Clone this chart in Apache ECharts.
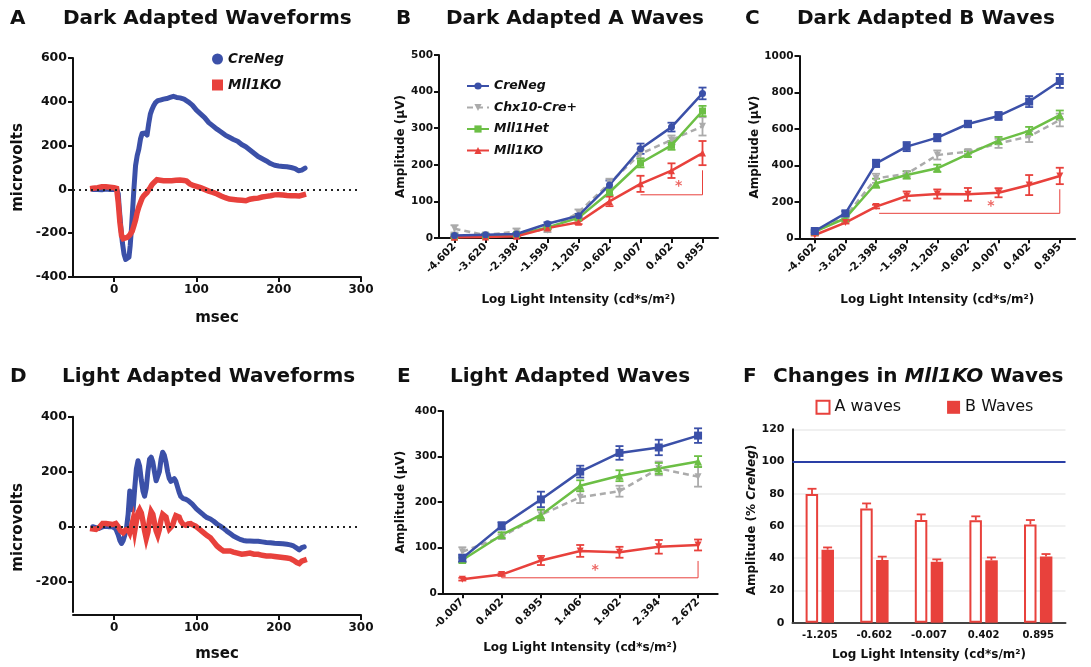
<!DOCTYPE html>
<html><head><meta charset="utf-8">
<script src="https://cdn.jsdelivr.net/npm/echarts@6/dist/echarts.min.js"></script>
<style>html,body{margin:0;padding:0;background:#fff}#c{width:1091px;height:667px}</style>
</head><body><div id="c"></div>
<script>
// ---------------- DATA ----------------
const waveTicks = [0, 100, 200, 300];
const dYTicks = [-200, 0, 200, 400];
// Panel A: dark adapted waveforms (msec, microvolts)
const aCreT = [-26,-20,-15,-10,-5,0,3,5,6,8,10,12,14,16,18,19.5,21,22.5,24,26,28,30,32,34,36,38,40,42,44,46,48,50,53,56,60,64,68,72,76,80,85,90,95,100,105,110,115,120,125,130,135,140,145,150,155,160,165,170,175,180,185,190,195,200,205,210,215,220,224,228,232];
const aCreV = [0,0,-2,2,0,0,2,-20,-75,-166,-242,-295,-320,-325,-310,-257,-181,-90,0,108,154,184,230,255,262,258,248,300,344,365,382,395,405,408,412,415,420,425,420,418,412,400,385,362,345,328,305,290,275,262,248,238,228,220,205,195,180,165,150,140,130,118,110,107,105,103,100,95,85,88,97];
const aKOT = [-26,-20,-15,-10,-5,0,3,5,7,9,11,13,16,19,22,24,26,28,30,32,34,36,38,40,42,44,46,48.5,52,56,60,65,70,75,80,85,88,92,96,100,105,110,115,120,125,130,135,140,145,150,155,160,165,170,175,180,185,190,195,200,205,210,215,220,225,230];
const aKOV = [5,8,12,12,10,8,5,-60,-150,-211,-225,-228,-219,-208,-190,-166,-140,-105,-80,-60,-40,-29,-20,-14,-2,9,22,32,44,42,40,40,40,42,43,41,38,25,18,14,8,0,-8,-14,-21,-30,-38,-44,-46,-48,-50,-52,-45,-42,-40,-35,-32,-29,-25,-24,-26,-28,-29,-29,-30,-25];
// Panel D: light adapted waveforms
const dCreT = [-26,-22,-18,-14,-10,-6,-2,2,5,7,9,11,13,15,17,19,21,23,25,27,29,31,33,35,37,39,41,43,45,47,49,51,53,55,57,59,61,63,65,67,69,71,73,75,77,79,81,84,87,90,95,100,105,109,113,117,121,125,129,133,137,141,145,149,153,157,161,165,170,175,180,185,190,195,200,205,210,214,218,222,225,228,231];
const dCreV = [0,-3,-6,0,2,0,0,-8,-30,-50,-61,-50,-30,-5,45,130,130,60,140,210,240,220,170,130,111,140,200,245,253,235,200,167,170,200,245,271,260,235,200,175,165,170,175,165,145,125,110,102,100,95,82,65,52,42,33,28,20,10,2,-6,-16,-25,-34,-40,-46,-50,-52,-52,-53,-53,-55,-57,-58,-60,-61,-62,-64,-66,-70,-78,-84,-76,-73];
const dKOT = [-26,-22,-18,-14,-10,-6,-2,2,5,8,11,14,17,19,21,23,25,27,29,31,33,35,37,39,41,43,45,47,49,51,53,55,57,59,61,63,65,67,69,71,73,75,77,79,81,84,87,90,93,96,99,102,105,109,113,117,121,125,129,133,137,141,145,150,155,160,165,170,175,180,185,190,195,200,205,210,214,218,222,225,228,231];
const dKOV = [-8,-10,-2,12,12,10,8,12,0,-15,-22,-12,-10,-22,0,25,-15,20,50,62,50,20,-15,-43,-20,25,55,45,15,-15,-31,-10,25,45,49,35,10,-8,-12,5,25,40,43,35,20,8,5,10,11,6,2,-5,-12,-22,-32,-40,-55,-70,-80,-88,-88,-88,-92,-96,-100,-98,-96,-100,-100,-104,-106,-106,-108,-110,-112,-114,-116,-122,-130,-134,-125,-122];

// Panels B, C: dark adapted A and B waves
const darkIntensities = ['-4.602','-3.620','-2.398','-1.599','-1.205','-0.602','-0.007','0.402','0.895'];
const bCre = [7,9,11,39,61,145,244,303,395];     const bCreErr = [3,3,3,4,5,12,14,12,16];
const bChx = [25,8,18,21,70,150,230,268,305];    const bChxErr = [10,3,8,5,8,12,12,12,25];
const bHet = [3,5,9,29,55,125,205,253,347];      const bHetErr = [2,2,3,4,5,8,12,12,14];
const bKO  = [2,3,5,27,43,100,148,184,232];      const bKOErr  = [2,2,2,4,5,13,22,20,33];
const bBracket = [[6,118],[8,118],[8,185]];      const bStar = [[7.23,141]];

const cCre = [40,137,411,503,552,627,671,750,863]; const cCreErr = [8,12,20,25,20,18,22,30,38];
const cChx = [35,119,329,353,457,475,521,558,649]; const cChxErr = [5,10,25,15,25,12,25,30,35];
const cHet = [37,110,302,347,384,462,536,589,676]; const cHetErr = [5,8,25,20,20,15,20,22,25];
const cKO  = [18,86,174,232,243,241,250,292,342];  const cKOErr  = [3,5,10,25,25,35,25,55,45];
const cBracket = [[2.1,137],[8,137],[8,269]];      const cStar = [[5.75,177]];

// Panel E: light adapted waves
const lightIntensities = ['-0.007','0.402','0.895','1.406','1.902','2.394','2.672'];
const eCre = [77,148,206,267,308,320,346]; const eCreErr = [8,8,17,13,15,17,16];
const eChx = [91,124,172,211,224,274,256]; const eChxErr = [10,5,10,13,12,15,22];
const eHet = [73,128,172,236,258,274,289]; const eHetErr = [5,6,12,12,12,12,12];
const eKO  = [31,41,72,93,90,102,106];     const eKOErr  = [3,3,10,13,12,15,12];
const eBracket = [[1,34],[6,34],[6,71]];   const eStar = [[3.38,50]];

// Panel F: % of CreNeg
const fIntensities = ['-1.205','-0.602','-0.007','0.402','0.895'];
const fA = [79.8,70.9,63.7,63.5,61.0]; const fAErr = [3.3,3.1,3.5,2.5,2.7];
const fB = [45.3,38.9,37.8,38.7,41.0]; const fBErr = [1.4,2.1,1.5,1.8,1.6];
const fRef = 100;

// ---------------- STYLE ----------------
const FONT = 'DejaVu Sans';
const BLUE = '#3b50a8', RED = '#e8413c', GREEN = '#6cbf45', GRAY = '#ababab', INK = '#111';
const zip = (t, v) => t.map((x, i) => [x, v[i]]);
const TT = {fontFamily: FONT, fontWeight: 'bold', fontSize: 20, color: INK};

function yax(gi, o) {
  return Object.assign({
    gridIndex: gi, type: 'value', splitLine: {show: false},
    axisLine: {show: true, onZero: false, lineStyle: {color: INK, width: 2}},
    axisTick: {show: true, length: 5, lineStyle: {color: INK, width: 2}},
    axisLabel: {color: INK, fontFamily: FONT, fontWeight: 'bold', fontSize: 10.5, margin: 6, formatter: v => String(v)},
    nameLocation: 'middle', nameRotate: 90,
    nameTextStyle: {fontFamily: FONT, fontWeight: 'bold', fontSize: 12, color: INK}
  }, o);
}
function xcat(gi, data, o) {
  return Object.assign({
    gridIndex: gi, type: 'category', data: data, boundaryGap: true,
    axisLine: {show: true, onZero: false, lineStyle: {color: INK, width: 2}},
    axisTick: {show: true, alignWithLabel: true, length: 5, lineStyle: {color: INK, width: 2}},
    axisLabel: {color: INK, fontFamily: FONT, fontWeight: 'bold', fontSize: 10.5, rotate: 45, margin: 7, interval: 0},
    name: 'Log Light Intensity (cd*s/m²)', nameLocation: 'middle',
    nameTextStyle: {fontFamily: FONT, fontWeight: 'bold', fontSize: 12, color: INK}
  }, o);
}
function xwave(gi, o) {
  return Object.assign({
    gridIndex: gi, type: 'value', min: -50, max: 300, splitLine: {show: false},
    axisLine: {show: true, onZero: false, lineStyle: {color: INK, width: 2}},
    axisTick: {show: true, length: 5, customValues: waveTicks, lineStyle: {color: INK, width: 2}},
    axisLabel: {color: INK, fontFamily: FONT, fontWeight: 'bold', fontSize: 12, customValues: waveTicks, margin: 7},
    name: 'msec', nameLocation: 'middle',
    nameTextStyle: {fontFamily: FONT, fontWeight: 'bold', fontSize: 15, color: INK}
  }, o);
}
function xhidden(gi, n) {
  return {gridIndex: gi, type: 'value', min: -0.5, max: n - 0.5, show: false};
}
function lineS(name, xi, yi, vals, color, symbol, rot, dashed, size) {
  return {
    name: name, type: 'line', xAxisIndex: xi, yAxisIndex: yi, data: vals,
    symbol: symbol, symbolSize: size || 7, symbolRotate: rot || 0, showSymbol: true,
    lineStyle: {color: color, width: 2.5, type: dashed ? [6, 4] : 'solid'},
    itemStyle: {color: color}, z: 4
  };
}
function errS(xi, yi, vals, errs, color, capHalf, offset, upOnly) {
  return {
    type: 'custom', xAxisIndex: xi, yAxisIndex: yi, silent: true, z: 3,
    data: vals.map((v, i) => [i, upOnly ? v : v - errs[i], v + errs[i]]),
    renderItem: function (params, api) {
      const top = api.coord([api.value(0), api.value(2)]);
      const bot = api.coord([api.value(0), api.value(1)]);
      const x = top[0] + offset;
      const st = {stroke: color, lineWidth: 1.8};
      const ch = [
        {type: 'line', shape: {x1: x, y1: top[1], x2: x, y2: bot[1]}, style: st},
        {type: 'line', shape: {x1: x - capHalf, y1: top[1], x2: x + capHalf, y2: top[1]}, style: st}
      ];
      if (!upOnly) ch.push({type: 'line', shape: {x1: x - capHalf, y1: bot[1], x2: x + capHalf, y2: bot[1]}, style: st});
      return {type: 'group', children: ch};
    }
  };
}
function bracketS(xi, yi, pts) {
  return {type: 'line', xAxisIndex: xi, yAxisIndex: yi, data: pts, symbol: 'none', silent: true,
    lineStyle: {color: RED, width: 1}, z: 2};
}
function starS(xi, yi, pts) {
  return {type: 'scatter', xAxisIndex: xi, yAxisIndex: yi, data: pts, symbolSize: 1, silent: true,
    itemStyle: {color: 'rgba(0,0,0,0)'},
    label: {show: true, position: 'inside', formatter: '*', color: RED, fontFamily: FONT, fontWeight: 'bold', fontSize: 14}};
}
function wave(name, xi, yi, t, v, color, extra) {
  return Object.assign({
    name: name, type: 'line', xAxisIndex: xi, yAxisIndex: yi, data: zip(t, v),
    showSymbol: false, symbol: 'circle', lineStyle: {color: color, width: 5, cap: 'round', join: 'round'},
    itemStyle: {color: color}, z: 4
  }, extra || {});
}
const zeroLine = {silent: true, symbol: 'none', label: {show: false},
  lineStyle: {color: '#222', width: 2, type: [2, 4]}, data: [{yAxis: 0}]};

const legendText = {fontFamily: FONT, fontWeight: 'bold', fontStyle: 'italic', fontSize: 12.5, color: INK};

const option = {
  animation: false,
  backgroundColor: '#fff',
  title: [
    {text: 'A', left: 10, top: 9, padding: 0, textStyle: TT},
    {text: 'Dark Adapted Waveforms', left: 63, top: 9, padding: 0, textStyle: TT},
    {text: 'B', left: 396, top: 9, padding: 0, textStyle: TT},
    {text: 'Dark Adapted A Waves', left: 446, top: 9, padding: 0, textStyle: TT},
    {text: 'C', left: 745, top: 9, padding: 0, textStyle: TT},
    {text: 'Dark Adapted B Waves', left: 797, top: 9, padding: 0, textStyle: TT},
    {text: 'D', left: 10, top: 367, padding: 0, textStyle: TT},
    {text: 'Light Adapted Waveforms', left: 62, top: 367, padding: 0, textStyle: TT},
    {text: 'E', left: 397, top: 367, padding: 0, textStyle: TT},
    {text: 'Light Adapted Waves', left: 450, top: 367, padding: 0, textStyle: TT},
    {text: 'F', left: 743, top: 367, padding: 0, textStyle: TT},
    {text: '{b|Changes in }{i|Mll1KO}{b| Waves}', left: 773, top: 367, padding: 0,
      textStyle: Object.assign({}, TT, {rich: {b: TT, i: Object.assign({}, TT, {fontStyle: 'italic'})}})}
  ],
  legend: [
    {left: 212, top: 52, padding: 0, orient: 'vertical', itemWidth: 11, itemHeight: 11, itemGap: 12,
      data: [{name: 'A:CreNeg', icon: 'circle'}, {name: 'A:Mll1KO', icon: 'rect'}],
      formatter: n => n.split(':')[1], textStyle: Object.assign({}, legendText, {fontSize: 13.5})},
    {left: 466, top: 79.5, padding: 0, orient: 'vertical', itemWidth: 22, itemHeight: 9, itemGap: 8.5,
      data: ['B:CreNeg', 'B:Chx10-Cre+', 'B:Mll1Het', 'B:Mll1KO'],
      formatter: n => n.split(':')[1], textStyle: legendText},
    {left: 815.5, top: 399.3, padding: 0, orient: 'horizontal', itemWidth: 13, itemHeight: 13, itemGap: 46,
      data: [{name: 'A waves', icon: 'rect', itemStyle: {color: '#fff', borderColor: RED, borderWidth: 2}},
             {name: 'B Waves', icon: 'rect'}],
      textStyle: {fontFamily: FONT, fontSize: 16, color: INK}}
  ],
  grid: [
    {left: 73, top: 58, width: 288, height: 219},
    {left: 439, top: 55, width: 279, height: 183},
    {left: 799.5, top: 56, width: 275.6, height: 182.3},
    {left: 73, top: 416.7, width: 288, height: 195.3},
    {left: 442.7, top: 411, width: 275, height: 182.3},
    {left: 792.5, top: 429.3, width: 273, height: 193.4}
  ],
  xAxis: [
    xwave(0, {nameGap: 34}),
    xcat(1, darkIntensities, {nameGap: 56}),
    xcat(2, darkIntensities, {nameGap: 56}),
    xwave(3, {nameGap: 32, offset: 3}),
    xcat(4, lightIntensities, {nameGap: 49}),
    xcat(5, fIntensities, {nameGap: 26,
      axisLine: {show: true, onZero: false, lineStyle: {color: '#444', width: 2}}, axisTick: {show: false},
      axisLabel: {color: INK, fontFamily: FONT, fontWeight: 'bold', fontSize: 10, rotate: 0, margin: 8, interval: 0}}),
    xhidden(1, darkIntensities.length),
    xhidden(2, darkIntensities.length),
    xhidden(4, lightIntensities.length)
  ],
  yAxis: [
    yax(0, {min: -400, max: 600, interval: 200, name: 'microvolts', nameGap: 47,
      axisLabel: {color: INK, fontFamily: FONT, fontWeight: 'bold', fontSize: 12.5, margin: 6},
      nameTextStyle: {fontFamily: FONT, fontWeight: 'bold', fontSize: 15, color: INK}}),
    yax(1, {min: 0, max: 500, interval: 100, name: 'Amplitude (μV)', nameGap: 32}),
    yax(2, {min: 0, max: 1000, interval: 200, name: 'Amplitude (μV)', nameGap: 36}),
    yax(3, {min: -310, max: 400, name: 'microvolts', nameGap: 47,
      axisTick: {show: true, length: 5, customValues: dYTicks, lineStyle: {color: INK, width: 2}},
      axisLabel: {color: INK, fontFamily: FONT, fontWeight: 'bold', fontSize: 12.5, margin: 6, customValues: dYTicks},
      nameTextStyle: {fontFamily: FONT, fontWeight: 'bold', fontSize: 15, color: INK, padding: [0, 26, 0, 0]}}),
    yax(4, {min: 0, max: 400, interval: 100, name: 'Amplitude (μV)', nameGap: 36}),
    yax(5, {min: 0, max: 120, interval: 20, nameGap: 34,
      name: 'Amplitude (% {i|CreNeg})',
      axisTick: {show: false},
      splitLine: {show: true, lineStyle: {color: '#ebebeb', width: 1.5}},
      axisLabel: {color: INK, fontFamily: FONT, fontWeight: 'bold', fontSize: 11, margin: 8},
      nameTextStyle: {fontFamily: FONT, fontWeight: 'bold', fontSize: 12, color: INK, padding: [0, 0, 0, 12],
        rich: {i: {fontFamily: FONT, fontWeight: 'bold', fontStyle: 'italic', fontSize: 12, color: INK}}}})
  ],
  series: [
    // A
    wave('A:CreNeg', 0, 0, aCreT, aCreV, BLUE, {markLine: zeroLine}),
    wave('A:Mll1KO', 0, 0, aKOT, aKOV, RED, {lineStyle: {color: RED, width: 5.5, cap: 'square', join: 'miter'}}),
    // D
    wave('D:CreNeg', 3, 3, dCreT, dCreV, BLUE, {markLine: zeroLine}),
    wave('D:Mll1KO', 3, 3, dKOT, dKOV, RED, {lineStyle: {color: RED, width: 5.5, cap: 'square', join: 'miter'}}),
    // B
    bracketS(6, 1, bBracket), starS(6, 1, bStar),
    errS(1, 1, bChx, bChxErr, GRAY, 4, 0), lineS('B:Chx10-Cre+', 1, 1, bChx, GRAY, 'triangle', 180, true, 7),
    errS(1, 1, bHet, bHetErr, GREEN, 4, 0), lineS('B:Mll1Het', 1, 1, bHet, GREEN, 'rect', 0, false, 7),
    errS(1, 1, bKO, bKOErr, RED, 4, 0), lineS('B:Mll1KO', 1, 1, bKO, RED, 'triangle', 0, false, 7),
    errS(1, 1, bCre, bCreErr, BLUE, 4, 0), lineS('B:CreNeg', 1, 1, bCre, BLUE, 'circle', 0, false, 7),
    // C
    bracketS(7, 2, cBracket), starS(7, 2, cStar),
    errS(2, 2, cChx, cChxErr, GRAY, 4, 0), lineS('C:Chx10-Cre+', 2, 2, cChx, GRAY, 'triangle', 180, true, 7),
    errS(2, 2, cHet, cHetErr, GREEN, 4, 0), lineS('C:Mll1Het', 2, 2, cHet, GREEN, 'triangle', 0, false, 8),
    errS(2, 2, cKO, cKOErr, RED, 4, 0), lineS('C:Mll1KO', 2, 2, cKO, RED, 'triangle', 180, false, 7),
    errS(2, 2, cCre, cCreErr, BLUE, 4, 0), lineS('C:CreNeg', 2, 2, cCre, BLUE, 'rect', 0, false, 8),
    // E
    bracketS(8, 4, eBracket), starS(8, 4, eStar),
    errS(4, 4, eChx, eChxErr, GRAY, 4, 0), lineS('E:Chx10-Cre+', 4, 4, eChx, GRAY, 'triangle', 180, true, 7),
    errS(4, 4, eHet, eHetErr, GREEN, 4, 0), lineS('E:Mll1Het', 4, 4, eHet, GREEN, 'triangle', 0, false, 8),
    errS(4, 4, eKO, eKOErr, RED, 4, 0), lineS('E:Mll1KO', 4, 4, eKO, RED, 'triangle', 180, false, 7),
    errS(4, 4, eCre, eCreErr, BLUE, 4, 0), lineS('E:CreNeg', 4, 4, eCre, BLUE, 'rect', 0, false, 8),
    // F
    {name: 'A waves', type: 'bar', xAxisIndex: 5, yAxisIndex: 5, data: fA, barWidth: 12.5, barGap: '27%',
      itemStyle: {color: '#fff', borderColor: RED, borderWidth: 2},
      markLine: {silent: true, symbol: 'none', label: {show: false}, data: [{yAxis: fRef}],
        lineStyle: {color: '#2a3fa6', width: 2, type: 'solid'}}},
    {name: 'B Waves', type: 'bar', xAxisIndex: 5, yAxisIndex: 5, data: fB, barWidth: 12.5,
      itemStyle: {color: RED}},
    errS(5, 5, fA, fAErr, RED, 4.5, -7.8, true),
    errS(5, 5, fB, fBErr, RED, 4.5, 7.8, true)
  ]
};
const chart = echarts.init(document.getElementById('c'), null, {renderer: 'canvas'});
chart.setOption(option);
</script></body></html>
